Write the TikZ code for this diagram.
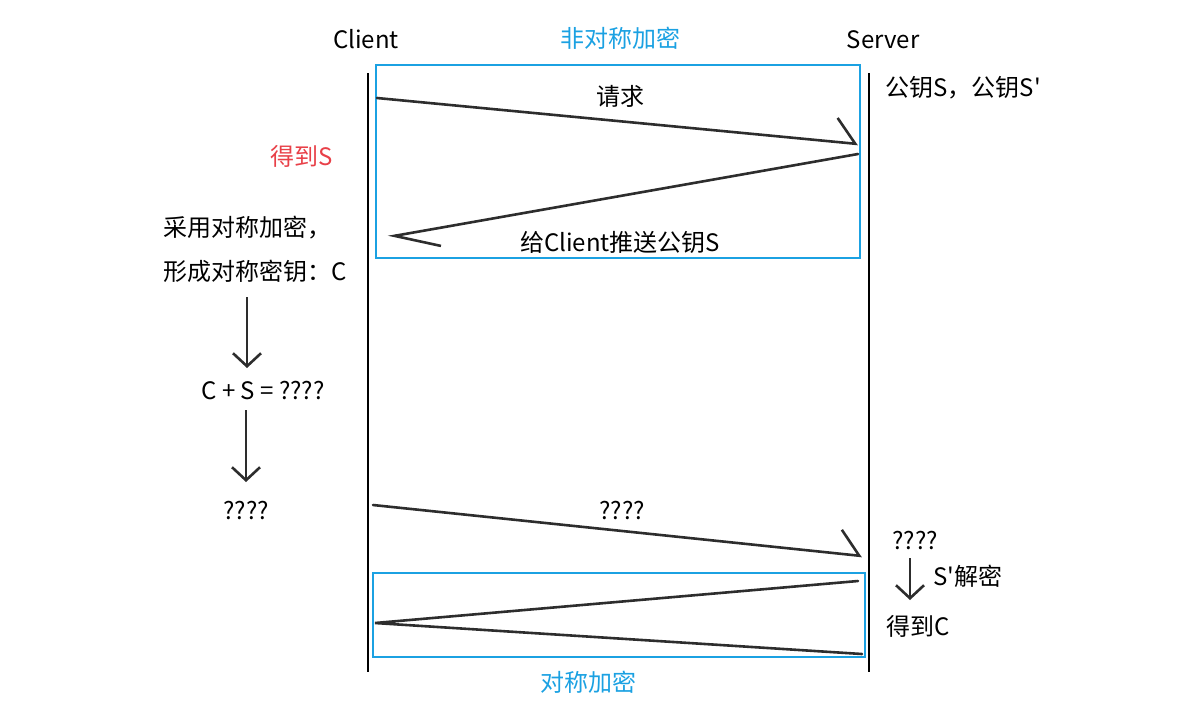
\documentclass[tikz,border=0pt]{standalone}
\usepackage{fontspec}
\setmainfont{Noto Sans CJK SC}
\usetikzlibrary{arrows.meta, positioning}
\definecolor{boxblue}{RGB}{27,161,226}
\definecolor{notered}{RGB}{232,64,72}
\definecolor{pencil}{RGB}{45,45,45}

\begin{document}
\begin{tikzpicture}[x=0.5pt, y=-0.5pt,
    every node/.style={font=\fontsize{12}{14}\selectfont, inner sep=0pt},
    lifeline/.style={black, line width=1.3pt},
    bluebox/.style={draw=boxblue, line width=1.4pt},
    msg/.style={pencil, line width=1.3pt, line cap=round},
    halfbarb/.style={-{Straight Barb[left, length=10pt, width=24pt]}},
    longbarb/.style={-{Straight Barb[left, length=22pt, width=18pt]}},
    downarrow/.style={pencil, line width=1.3pt, -{Straight Barb[length=6.5pt, width=14pt]}}]
  \useasboundingbox (0,0) rectangle (1198,703);

  % headers
  \node at (366,39) (client) {Client};
  \node at (883,40) (server) {Server};
  \node[text=boxblue] at (620,38) (asym) {非对称加密};

  % lifelines
  \coordinate (ctop) at (368,73);
  \coordinate (cbot) at (368,672);
  \coordinate (stop) at (869,73);
  \coordinate (sbot) at (869,672);
  \draw[lifeline] (ctop) -- (cbot);
  \draw[lifeline] (stop) -- (sbot);

  % asymmetric part
  \draw[bluebox] (376,65) rectangle (860,258);
  \coordinate (reqa) at (377,98);
  \coordinate (reqb) at (858,144);
  \draw[msg, halfbarb] (reqa) -- (reqb);
  \node at (620,96) (req) {请求};
  \coordinate (pusha) at (858,154);
  \coordinate (pushb) at (388,237);
  \draw[msg, longbarb] (pusha) -- (pushb);
  \node at (620,242) (push) {给Client推送公钥S};
  \node[anchor=west] at (885,88) (keys) {公钥S，公钥S\textquotesingle};

  % client side
  \node[text=notered] at (302,156) (gots) {得到S};
  \node[anchor=west] at (163,228) (symm) {采用对称加密，};
  \node[anchor=west] at (163,271) (ckey) {形成对称密钥：C};
  \node at (263,390) (sum) {C + S = ????};
  \node at (246,510) (cipher) {????};
  \coordinate (d1a) at (247,297);
  \coordinate (d1b) at (247,368);
  \coordinate (d2a) at (246,410);
  \coordinate (d2b) at (246,482);
  \draw[downarrow] (d1a) -- (d1b);
  \draw[downarrow] (d2a) -- (d2b);

  % send cipher
  \coordinate (senda) at (373,505);
  \coordinate (sendb) at (862,556);
  \draw[msg, halfbarb] (senda) -- (sendb);
  \node at (622,510) (send) {????};

  % server side
  \node at (915,540) (srvq) {????};
  \coordinate (d3a) at (910,558);
  \coordinate (d3b) at (910,600);
  \draw[downarrow] (d3a) -- (d3b);
  \node[anchor=west] at (933,576) (dec) {S\textquotesingle 解密};
  \node at (918,626) (gotc) {得到C};

  % symmetric part
  \draw[bluebox] (373,573) rectangle (865,657);
  \coordinate (syma) at (858,581);
  \coordinate (symb) at (375,623);
  \coordinate (symc) at (862,654);
  \draw[msg] (syma) -- (symb) -- (symc);
  \node[text=boxblue] at (588,682) (sym) {对称加密};
\end{tikzpicture}
\end{document}
